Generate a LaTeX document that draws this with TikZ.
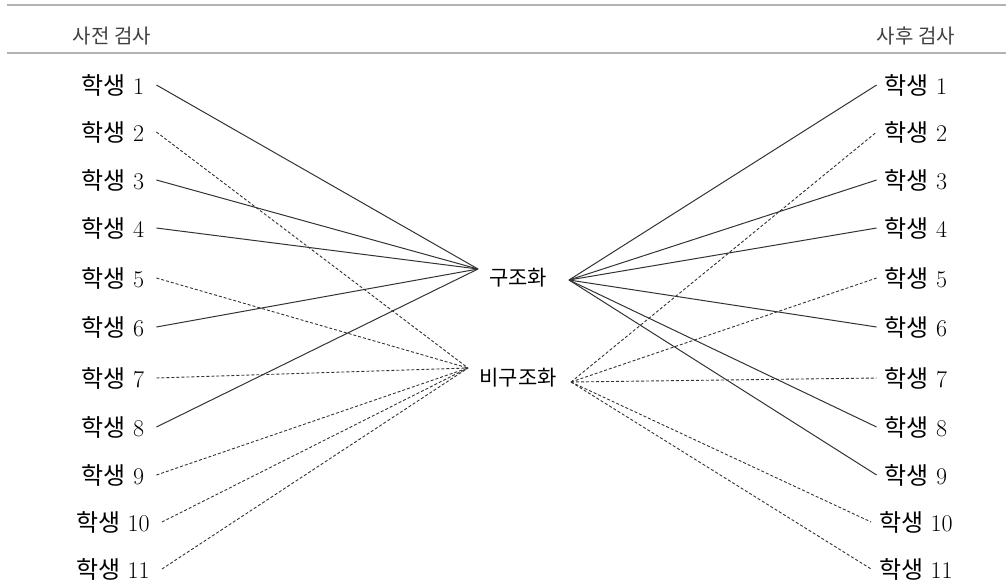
\documentclass[tikz,border=0pt]{standalone}
\usepackage{fontspec}
\newfontfamily\kr{Noto Sans CJK KR}
\begin{document}
\begin{tikzpicture}[x=1pt,y=-1pt,
  rule/.style={draw=black!30, line width=1.4pt},
  hdr/.style={font=\kr\fontsize{20}{22}\selectfont, text=black!75},
  stu/.style={font=\fontsize{24}{26}\selectfont, inner xsep=12pt, inner ysep=2pt},
  stuR/.style={stu, inner xsep=8pt},
  grp/.style={font=\kr\fontsize{21}{23}\selectfont, inner sep=1pt},
  solidlink/.style={draw=black!80, line width=1pt},
  dashlink/.style={draw=black!80, line width=0.9pt, dash pattern=on 3pt off 2pt}
]
\useasboundingbox (0,0) rectangle (1006,587);

% table rules and column headings
\coordinate (r1a) at (7,5);   \coordinate (r1b) at (1006,5);
\coordinate (r2a) at (7,53);  \coordinate (r2b) at (1006,53);
\draw[rule] (r1a) -- (r1b);
\draw[rule] (r2a) -- (r2b);
\node[hdr] (pre)  at (112,36) {사전 검사};
\node[hdr] (post) at (916,36) {사후 검사};

% students, pre-test column (left) and post-test column (right)
\foreach \i/\y in {1/85,2/132,3/180,4/228,5/278,6/327,7/378,8/427,9/475,10/522,11/569}{
  \node[stu]  (l\i) at (113,\y) {{\kr 학생} \i};
  \node[stuR] (r\i) at (916,\y) {{\kr 학생} \i};
}

% the two groups in the middle
\node[grp] (s) at (518,278) {구조화};
\node[grp] (u) at (518,378) {비구조화};
\coordinate (sL) at (478,269);
\coordinate (sR) at (569,280);
\coordinate (uL) at (468,368);
\coordinate (uR) at (571,382);

% pre-test assignments
\foreach \i in {1,3,4,6,8}{ \draw[solidlink] (l\i.east) -- (sL); }
\foreach \i in {2,5,7,9,10,11}{ \draw[dashlink] (l\i.east) -- (uL); }

% post-test assignments
\foreach \i in {1,3,4,6,8,9}{ \draw[solidlink] (sR) -- (r\i.west); }
\foreach \i in {2,5,7,10,11}{ \draw[dashlink] (uR) -- (r\i.west); }
\end{tikzpicture}
\end{document}
